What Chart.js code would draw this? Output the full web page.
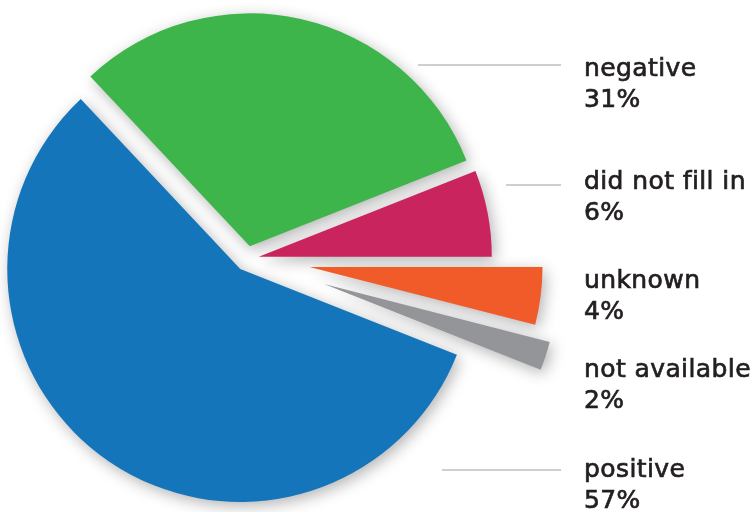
<!DOCTYPE html>
<html>
<head>
<meta charset="utf-8">
<script src="https://cdn.jsdelivr.net/npm/chart.js@4.4.1/dist/chart.umd.min.js"></script>
<style>
  html, body { margin: 0; background: #fff; }
  canvas { display: block; }
</style>
</head>
<body>
<canvas id="pie" width="756" height="512"></canvas>
<script>
const categories = ['negative', 'did not fill in', 'unknown', 'not available', 'positive'];
const shares = [31, 6, 4, 2, 57];
const sliceColors = ['#3db54a', '#c9245e', '#f15a29', '#939598', '#1575bb'];

// how far each slice is pulled out from the centre (px)
const pullOut = [13, 12, 63, 81, 12];

// right hand labels: x, first baseline, grey leader line (start x, y)
const labelX = 584;
const labelBaseY = [76, 189, 288, 377, 477];
const leaderFromX = [418, 506, null, null, 442];
const leaderY = [65, 185, null, null, 470];

const explode = {
  id: 'explode',
  afterDatasetsUpdate(chart) {
    chart.getDatasetMeta(0).data.forEach((arc, i) => {
      const mid = (arc.startAngle + arc.endAngle) / 2;
      arc.x += Math.cos(mid) * pullOut[i];
      arc.y += Math.sin(mid) * pullOut[i];
    });
  },
  beforeDatasetDraw(chart) {
    const ctx = chart.ctx;
    ctx.save();
    ctx.shadowColor = 'rgba(0,0,0,0.3)';
    ctx.shadowBlur = 15;
    ctx.shadowOffsetX = 3;
    ctx.shadowOffsetY = 4;
  },
  afterDatasetDraw(chart) {
    chart.ctx.restore();
  }
};

const sideLabels = {
  id: 'sideLabels',
  afterDraw(chart) {
    const ctx = chart.ctx;
    ctx.save();
    categories.forEach((name, i) => {
      if (leaderFromX[i] !== null) {
        ctx.lineWidth = 2;
        ctx.strokeStyle = '#cfcfcf';
        ctx.beginPath();
        ctx.moveTo(leaderFromX[i], leaderY[i]);
        ctx.lineTo(labelX - 23, leaderY[i]);
        ctx.stroke();
      }
      ctx.font = '25px "DejaVu Sans"';
      ctx.letterSpacing = '0.4px';
      ctx.fillStyle = '#231f20';
      ctx.strokeStyle = '#231f20';
      ctx.lineWidth = 0.7;
      [name, shares[i] + '%'].forEach((t, k) => {
        const y = labelBaseY[i] + k * 31;
        ctx.fillText(t, labelX, y);
        ctx.strokeText(t, labelX, y);
      });
    });
    ctx.restore();
  }
};

new Chart(document.getElementById('pie'), {
  type: 'pie',
  data: {
    labels: categories,
    datasets: [{
      data: shares,
      backgroundColor: sliceColors,
      borderWidth: 0,
      radius: 233
    }]
  },
  options: {
    responsive: false,
    animation: false,
    events: [],
    rotation: -43.2,
    layout: { padding: { left: 0, right: 262, top: 6, bottom: 0 } },
    plugins: {
      legend: { display: false },
      tooltip: { enabled: false }
    }
  },
  plugins: [explode, sideLabels]
});
</script>
</body>
</html>
